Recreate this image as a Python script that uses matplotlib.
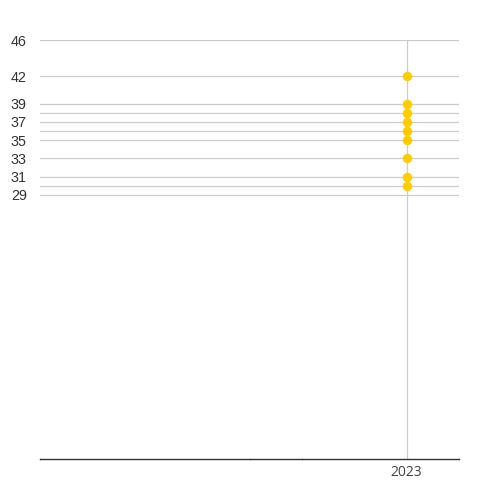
import matplotlib
matplotlib.use("Agg")
import matplotlib.pyplot as plt

# Survey values recorded for 2023
years = [2023] * 9
values = [42, 39, 38, 37, 36, 35, 33, 31, 30]

# Axis setup
y_labeled = [29, 31, 33, 35, 37, 39, 42, 46]
y_grid_extra = [30, 36, 38]
x_range = (2016, 2024)
x_minor = [2016, 2020, 2021, 2024]
x_labels = [2023]

fig = plt.figure(figsize=(5, 5), dpi=100)
ax = fig.add_axes([0.08, 0.082, 0.838, 0.838])

grid_color = "#cccccc"
for v in y_labeled + y_grid_extra:
    ax.axhline(v, color=grid_color, lw=0.9, zorder=1)
for x in x_labels:
    ax.axvline(x, color=grid_color, lw=0.9, zorder=1)

ax.plot(years, values, "o", color="#ffcc00", markersize=6.8,
        markeredgewidth=0, zorder=3)

ax.set_xlim(*x_range)
ax.set_ylim(0, 46)

ax.set_yticks(y_labeled)
ax.set_yticklabels([str(v) for v in y_labeled], fontsize=10.3,
                   color="#333333", family="Liberation Sans")
ax.tick_params(axis="y", length=0, pad=9.5)

ax.set_xticks(x_labels)
ax.set_xticklabels([str(v) for v in x_labels], fontsize=10,
                   color="#444444", family="Open Sans")
ax.tick_params(axis="x", length=0, pad=4.5)
ax.set_xticks(x_minor, minor=True)
ax.tick_params(axis="x", which="minor", length=2, width=0.6,
               color="#aaaaaa", direction="inout")

for side in ["top", "right", "left"]:
    ax.spines[side].set_visible(False)
ax.spines["bottom"].set_color("#333333")
ax.spines["bottom"].set_linewidth(1.0)

fig.savefig("out.png", dpi=100)
